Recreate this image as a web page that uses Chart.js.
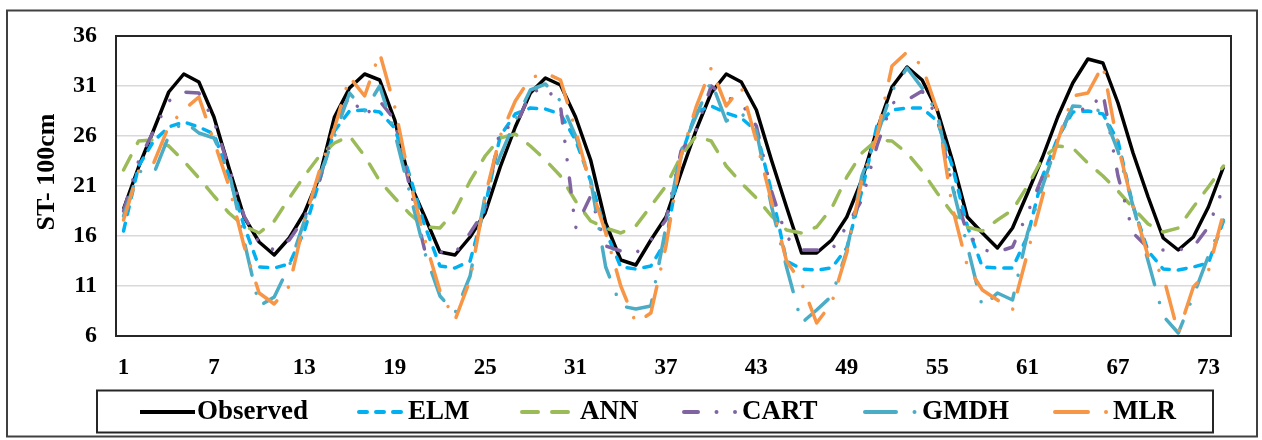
<!DOCTYPE html>
<html>
<head>
<meta charset="utf-8">
<script src="https://cdn.jsdelivr.net/npm/chart.js@4.4.1/dist/chart.umd.min.js"></script>
<style>
  html, body { margin: 0; padding: 0; background: #ffffff; }
  canvas { display: block; }
</style>
</head>
<body>
<canvas id="c" width="1262" height="440"></canvas>
<script>
const categories = [1,2,3,4,5,6,7,8,9,10,11,12,13,14,15,16,17,18,19,20,21,22,23,24,25,26,27,28,29,30,31,32,33,34,35,36,37,38,39,40,41,42,43,44,45,46,47,48,49,50,51,52,53,54,55,56,57,58,59,60,61,62,63,64,65,66,67,68,69,70,71,72,73,74];

const yTicks = [6, 11, 16, 21, 26, 31, 36];

const observed = [18.7,22.9,26.6,30.4,32.2,31.4,27.9,22.8,17.9,15.4,14.1,15.8,18.3,21.9,27.9,30.8,32.2,31.6,
  27.6,21.3,17.9,14.4,14.1,15.9,18.3,22.9,26.9,30.3,31.8,31.1,27.9,23.6,17.3,13.6,13.1,15.6,
  17.9,22.3,26.6,30.3,32.2,31.4,28.6,23.6,18.9,14.3,14.3,15.6,17.9,21.6,26.6,30.9,32.9,31.6,
  28.6,23.6,17.9,16.3,14.8,16.8,20.3,23.9,27.9,31.3,33.7,33.3,29.3,24.3,19.9,15.8,14.6,15.9,18.9,22.9];

const elm = [16.5,23.0,25.5,26.9,27.4,26.9,26.2,22.0,17.0,12.9,12.8,13.2,16.5,21.5,26.5,28.5,28.6,28.4,
  26.8,22.0,17.0,13.0,12.8,13.5,19.0,26.0,28.2,28.8,28.7,28.2,25.6,21.5,16.5,12.9,12.7,13.0,
  15.5,24.0,28.4,29.0,28.3,27.8,26.5,20.5,13.5,12.7,12.6,12.8,14.8,20.5,27.0,28.6,28.8,28.8,
  27.5,23.0,17.0,12.9,12.8,12.8,16.0,22.0,25.8,28.4,28.5,28.2,25.5,19.0,14.5,12.7,12.6,12.9,13.3,17.5];

const ann = [22.6,25.5,25.6,25.0,23.5,21.8,20.0,18.3,17.0,16.3,17.5,19.8,22.0,24.0,25.3,26.0,24.0,21.5,
  19.8,18.2,16.9,16.8,18.5,21.5,24.0,25.8,26.2,25.0,23.6,22.0,19.5,17.5,16.8,16.3,17.0,19.0,
  21.0,24.0,26.0,25.5,23.0,21.3,19.8,18.0,16.6,16.3,16.9,18.8,21.9,24.3,25.6,25.5,24.3,22.5,
  20.3,18.3,16.9,16.5,17.6,18.6,21.0,23.8,25.0,24.8,23.3,22.0,20.5,18.8,17.2,16.4,16.8,18.9,20.9,23.0];

const cart = [18.5,23.5,26.5,29.5,30.4,30.3,27.5,22.8,18.0,15.3,14.6,15.6,17.8,21.5,27.0,30.0,28.0,29.5,
  27.6,20.9,14.5,14.4,14.3,16.3,18.6,26.8,26.9,30.3,30.9,29.0,16.8,20.0,15.0,14.5,14.3,15.6,
  17.6,24.5,26.6,31.0,29.9,29.3,27.0,20.5,15.9,14.6,14.6,14.6,17.0,19.6,25.0,29.3,29.6,30.5,
  27.9,21.0,16.3,14.6,14.4,14.9,18.3,22.0,25.6,29.0,28.5,30.3,22.0,16.3,14.8,14.6,14.6,14.9,16.9,20.9];

const gmdh = [18.0,22.5,22.2,26.0,27.5,26.3,25.8,22.5,15.5,9.0,9.9,13.0,17.5,22.0,26.0,30.3,28.5,31.0,
  26.3,20.3,14.3,10.0,8.3,12.0,20.0,24.0,27.5,30.6,31.2,29.5,26.0,21.6,12.9,9.0,8.7,9.0,
  16.9,24.5,28.0,31.5,27.5,28.3,26.5,19.0,12.9,7.3,8.6,10.0,14.5,22.0,26.0,30.5,32.8,30.8,
  28.3,21.0,15.0,8.9,10.3,9.6,16.3,21.0,25.5,29.0,28.9,28.4,24.5,19.0,13.5,8.0,6.3,10.0,14.0,17.6];

const mlr = [17.6,22.5,23.3,27.0,28.6,29.9,25.5,21.0,15.0,10.3,9.2,11.0,17.5,22.5,26.8,31.9,30.0,34.3,
  28.9,21.5,15.6,10.5,7.6,11.6,20.0,26.0,29.5,31.8,32.3,31.6,26.6,21.0,16.3,11.0,7.3,8.3,
  15.0,24.0,28.9,32.8,29.0,30.9,25.5,19.5,13.5,11.3,7.3,9.3,14.3,21.6,26.0,33.0,34.4,33.0,
  28.6,18.9,13.0,10.6,9.6,8.6,14.3,20.0,25.5,30.0,30.3,33.1,25.0,19.0,14.0,12.0,6.3,10.9,12.5,18.3];

const seriesNames = ['Observed', 'ELM', 'ANN', 'CART', 'GMDH', 'MLR'];
const seriesColors = ['#000000', '#00B0F0', '#9BBB59', '#8064A2', '#4BACC6', '#F79646'];
const seriesDash = [[], [8, 9], [16, 14], [14, 18.5, 0.01, 18.5, 0.01, 18.5], [31, 18.5, 0.01, 18.5], [33, 18, 0.01, 18]];
const seriesValues = [observed, elm, ann, cart, gmdh, mlr];

const FONT = "'Liberation Serif', 'Times New Roman', serif";

const datasets = seriesNames.map((name, i) => ({
  label: name,
  data: seriesValues[i],
  borderColor: seriesColors[i],
  backgroundColor: seriesColors[i],
  borderWidth: 3.5,
  borderDash: seriesDash[i],
  borderCapStyle: i === 0 ? 'butt' : 'round',
  borderJoinStyle: 'round',
  pointRadius: 0,
  pointHoverRadius: 0,
  tension: 0,
  fill: false,
  order: seriesNames.length - 1 - i
}));

const framePlugin = {
  id: 'framePlugin',
  beforeDraw(chart) {
    const ctx = chart.ctx;
    ctx.save();
    ctx.fillStyle = '#ffffff';
    ctx.fillRect(0, 0, chart.width, chart.height);
    ctx.restore();
  },
  afterDraw(chart) {
    const ctx = chart.ctx;
    const a = chart.chartArea;
    ctx.save();
    ctx.strokeStyle = '#262626';
    ctx.lineWidth = 2;
    ctx.setLineDash([]);
    ctx.strokeRect(a.left, a.top, a.right - a.left, a.bottom - a.top);
    ctx.strokeStyle = '#404040';
    ctx.lineWidth = 2;
    ctx.strokeRect(7, 10.5, 1250, 426);
    ctx.fillStyle = '#000000';
    ctx.font = 'bold 26px ' + FONT;
    ctx.textAlign = 'center';
    ctx.textBaseline = 'middle';
    ctx.translate(47, 172);
    ctx.rotate(-Math.PI / 2);
    ctx.fillText('ST- 100cm', 0, 0);
    ctx.restore();

    ctx.save();
    ctx.strokeStyle = '#262626';
    ctx.lineWidth = 2;
    ctx.strokeRect(97, 390.5, 1116, 42);
    const lineX = [140, 357, 520, 682, 863, 1053];
    const lineW = [55, 48, 50, 56, 55, 56];
    const textX = [197, 408, 580, 742, 922, 1113];
    const ly = 412;
    chart.data.datasets.forEach((ds, i) => {
      ctx.strokeStyle = ds.borderColor;
      ctx.lineWidth = 4;
      ctx.lineCap = ds.borderCapStyle;
      ctx.setLineDash(ds.borderDash);
      ctx.beginPath();
      const cap = ds.borderCapStyle === 'round' ? 2 : 0;
      ctx.moveTo(lineX[i] + cap, ly);
      ctx.lineTo(lineX[i] + lineW[i] - cap, ly);
      ctx.stroke();
      ctx.setLineDash([]);
      ctx.fillStyle = '#000000';
      ctx.font = 'bold 27px ' + FONT;
      ctx.textAlign = 'left';
      ctx.textBaseline = 'middle';
      ctx.fillText(ds.label, textX[i], ly);
    });
    ctx.restore();
  }
};

new Chart(document.getElementById('c'), {
  type: 'line',
  data: { labels: categories, datasets: datasets },
  options: {
    responsive: false,
    animation: false,
    events: [],
    layout: { padding: { left: 0, right: 31, top: 36, bottom: 54 } },
    plugins: {
      legend: { display: false },
      tooltip: { enabled: false },
      title: { display: false }
    },
    scales: {
      x: {
        type: 'category',
        offset: true,
        grid: { display: false, drawTicks: false },
        border: { display: false },
        ticks: {
          autoSkip: false,
          maxRotation: 0,
          minRotation: 0,
          padding: 18,
          color: '#000000',
          font: { family: FONT, size: 23, weight: 'bold' },
          callback: function (value, index) {
            return index % 6 === 0 ? String(categories[index]) : null;
          }
        },
        afterFit(scale) { scale.height = 50; }
      },
      y: {
        type: 'linear',
        min: 6,
        max: 36,
        grid: { color: '#D9D9D9', lineWidth: 1.5, drawTicks: false },
        border: { display: false },
        ticks: {
          padding: 19,
          color: '#000000',
          font: { family: FONT, size: 24, weight: 'bold' }
        },
        afterBuildTicks(scale) { scale.ticks = yTicks.map(v => ({ value: v })); },
        afterFit(scale) { scale.width = 116; }
      }
    }
  },
  plugins: [framePlugin]
});
</script>
</body>
</html>
